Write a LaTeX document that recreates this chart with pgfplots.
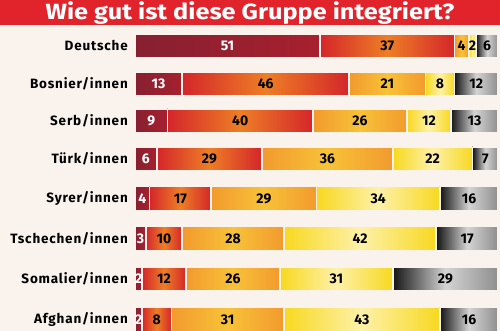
\documentclass[border=0pt]{standalone}
\usepackage{graphicx}
\usepackage{pgfplots}
\pgfplotsset{compat=1.18}
\usepackage{pgfplotstable}
\usepackage{fontspec}
\setmainfont{Fira Sans}
\newfontfamily\labfont[LetterSpace=6]{Fira Sans}
\definecolor{bg}{HTML}{FAF2EC}
\definecolor{banner}{HTML}{E1242B}
\definecolor{maroonL}{HTML}{862031}
\definecolor{maroonR}{HTML}{A8202E}
\definecolor{redA}{HTML}{D4262A}
\definecolor{orangeA}{HTML}{EE7E26}
\definecolor{orangeB}{HTML}{F29A2E}
\definecolor{yellowB}{HTML}{F8C238}
\definecolor{yellowC}{HTML}{F8D820}
\definecolor{paleC}{HTML}{FDF1A8}
\definecolor{darkE}{HTML}{141414}
\definecolor{lightE}{HTML}{D4D4D4}
\definecolor{midE}{HTML}{8E8E8E}
\pgfplotstableread{
y a b c d e name
46 51 37 4 2 6 Deutsche
84 13 46 21 8 12 Bosnier/innen
121 9 40 26 12 13 Serb/innen
159 6 29 36 22 7 Türk/innen
198.5 4 17 29 34 16 Syrer/innen
238.5 3 10 28 42 17 Tschechen/innen
279 2 12 26 31 29 Somalier/innen
319.5 2 8 31 43 16 Afghan/innen
}\data
\pgfplotsset{
  geom/.style={at={(135pt,0pt)}, anchor=south west, scale only axis,
    width=363pt, height=331pt, xmin=0, xmax=100, ymin=0, ymax=331,
    y dir=reverse, clip=false, axis line style={draw=none},
    tick style={draw=none}, xtick=\empty, ytick=\empty},
  seg/.style={draw=bg, line width=1.6pt, mark=none, line join=miter},
  lab/.style={draw=none, mark=none, nodes near coords,
    point meta=explicit symbolic,
    every node near coord/.style={anchor=center, inner sep=0pt,
      font=\fontsize{14}{14}\selectfont\bfseries, text=#1}},
}
\newcommand\rect[3]{%
\addplot[seg, #3] coordinates {(#1,\ylo) (#2,\ylo) (#2,\yhi) (#1,\yhi) (#1,\ylo)};}
\newcommand\barrow[6]{%
\begin{axis}[geom]
\pgfmathsetmacro\ylo{#1-12}\pgfmathsetmacro\yhi{#1+12}%
\pgfmathsetmacro\xa{#2}\pgfmathsetmacro\xb{\xa+#3}%
\pgfmathsetmacro\xc{\xb+#4}\pgfmathsetmacro\xd{\xc+#5}\pgfmathsetmacro\xe{\xd+#6}%
\rect{0}{\xa}{left color=maroonL, right color=maroonR}
\rect{\xa}{\xb}{left color=redA, right color=redA, middle color=orangeA}
\rect{\xb}{\xc}{left color=orangeB, right color=orangeB, middle color=yellowB}
\rect{\xc}{\xd}{left color=yellowC, right color=yellowC, middle color=paleC}
\rect{\xd}{\xe}{left color=darkE, right color=midE, middle color=lightE}
\end{axis}}
\begin{document}
\begin{tikzpicture}
\useasboundingbox (0pt,0pt) rectangle (500pt,331pt);
\fill[bg] (0pt,0pt) rectangle (500pt,331pt);
\fill[banner] (0pt,306pt) rectangle (500pt,331pt);
\node[text=white, anchor=base, inner sep=0pt, font=\fontsize{22}{24}\selectfont\bfseries] at (250pt,311.5pt) {\scalebox{1.15}[1]{Wie gut ist diese Gruppe integriert?}};
\barrow{46}{51}{37}{4}{2}{6}
\barrow{84}{13}{46}{21}{8}{12}
\barrow{121}{9}{40}{26}{12}{13}
\barrow{159}{6}{29}{36}{22}{7}
\barrow{198.5}{4}{17}{29}{34}{16}
\barrow{238.5}{3}{10}{28}{42}{17}
\barrow{279}{2}{12}{26}{31}{29}
\barrow{319.5}{2}{8}{31}{43}{16}
\begin{axis}[geom]
\addplot[lab=white] table[x expr={\thisrow{a}/2}, y=y, meta=a]{\data};
\addplot[lab=black] table[x expr={\thisrow{a}+\thisrow{b}/2}, y=y, meta=b]{\data};
\addplot[lab=black] table[x expr={\thisrow{a}+\thisrow{b}+\thisrow{c}/2}, y=y, meta=c]{\data};
\addplot[lab=black] table[x expr={\thisrow{a}+\thisrow{b}+\thisrow{c}+\thisrow{d}/2}, y=y, meta=d]{\data};
\addplot[lab=black] table[x expr={100-\thisrow{e}/2}, y=y, meta=e]{\data};
\addplot[draw=none, mark=none, nodes near coords, point meta=explicit symbolic,
  every node near coord/.style={anchor=east, inner sep=0pt, xshift=-7pt,
    font=\labfont\fontsize{13.5}{14}\selectfont\bfseries, text=black}]
  table[x expr=0, y=y, meta=name]{\data};
\end{axis}
\end{tikzpicture}
\end{document}
